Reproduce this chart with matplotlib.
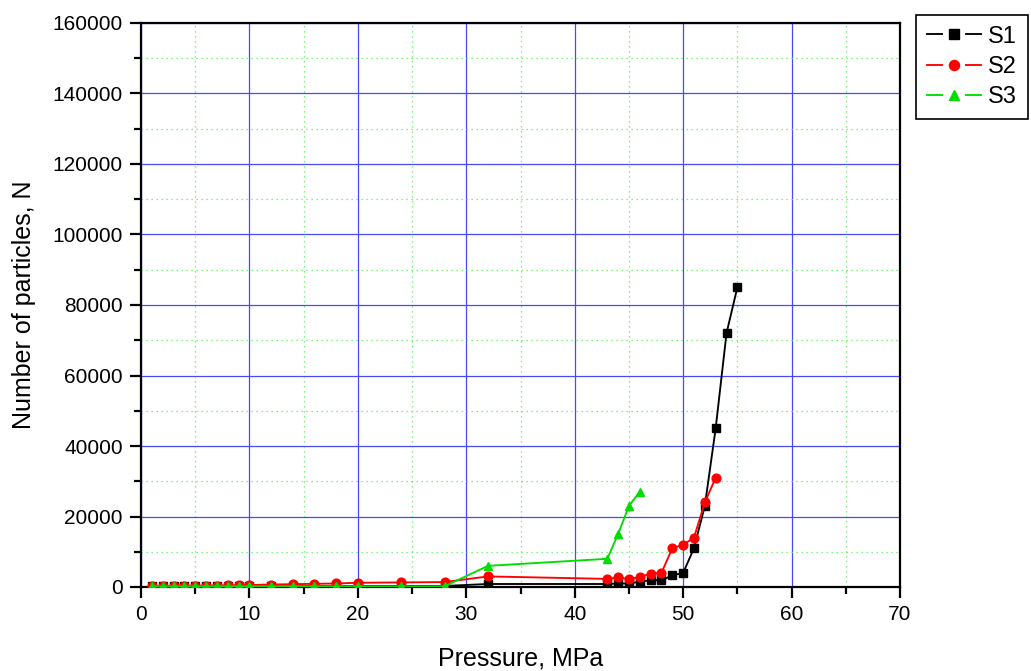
import matplotlib
matplotlib.use("Agg")
import matplotlib.pyplot as plt
from matplotlib.lines import Line2D
from matplotlib.legend_handler import HandlerBase
from matplotlib.ticker import MultipleLocator

plt.rcParams['font.family'] = ['Liberation Sans', 'DejaVu Sans']

# Data
p1 = [1, 2, 3, 4, 5, 6, 7, 8, 9, 10, 12, 14, 16, 18, 20, 24, 28, 32, 43, 44, 45, 46, 47, 48, 49, 50, 51, 52, 53, 54, 55]
s1 = [150, 150, 150, 150, 150, 150, 150, 150, 150, 200, 200, 200, 250, 250, 250, 300, 300, 850, 850, 1000, 1000, 1500, 1900, 1900, 3300, 4000, 11000, 23000, 45000, 72000, 85000]

p2 = [1, 2, 3, 4, 5, 6, 7, 8, 9, 10, 12, 14, 16, 18, 20, 24, 28, 32, 43, 44, 45, 46, 47, 48, 49, 50, 51, 52, 53]
s2 = [300, 300, 300, 350, 350, 400, 400, 450, 500, 550, 700, 800, 900, 1000, 1200, 1300, 1400, 3000, 2300, 2700, 2300, 2800, 3800, 4000, 11000, 12000, 14000, 24000, 31000]

p3 = [1, 2, 3, 4, 5, 6, 7, 8, 9, 10, 12, 14, 16, 18, 20, 24, 28, 32, 43, 44, 45, 46]
s3 = [200, 200, 200, 200, 200, 200, 200, 200, 200, 200, 200, 200, 200, 200, 200, 200, 200, 6000, 8000, 15000, 23000, 27000]

labels = ["S1", "S2", "S3"]
colors = ["black", "#ff0000", "#00dd00"]
markers = ["s", "o", "^"]


class GapHandler(HandlerBase):
    def create_artists(self, legend, orig, xdescent, ydescent, width, height, fontsize, trans):
        y = height / 2 - ydescent
        x0 = -xdescent
        gap = width * 0.22
        c = orig.get_color()
        lw = orig.get_linewidth()
        l1 = Line2D([x0, x0 + width / 2 - gap], [y, y], color=c, lw=lw)
        l2 = Line2D([x0 + width / 2 + gap, x0 + width], [y, y], color=c, lw=lw)
        m = Line2D([x0 + width / 2], [y], marker=orig.get_marker(), color=c,
                   markersize=orig.get_markersize() * 1.15, linestyle='none')
        for a in (l1, l2, m):
            a.set_transform(trans)
        return [l1, l2, m]


fig = plt.figure(figsize=(10.31, 6.71), dpi=100)
ax = fig.add_axes([141 / 1031, 1 - 587 / 671, (900 - 141) / 1031, (587 - 23) / 671])

handles = []
for x, y, lab, c, mk in zip([p1, p2, p3], [s1, s2, s3], labels, colors, markers):
    ms = 5.7 if mk == 's' else 6.3
    h, = ax.plot(x, y, color=c, marker=mk, markersize=ms, lw=1.35, label=lab, zorder=3)
    handles.append(h)

ax.set_xlim(0, 70)
ax.set_ylim(0, 160000)
ax.xaxis.set_major_locator(MultipleLocator(10))
ax.xaxis.set_minor_locator(MultipleLocator(5))
ax.yaxis.set_major_locator(MultipleLocator(20000))
ax.yaxis.set_minor_locator(MultipleLocator(10000))

ax.grid(which='major', color='#4848ff', lw=0.9, ls='-', zorder=0)
ax.grid(which='minor', color='#55ee55', lw=0.9, ls=(0, (1, 3)), zorder=0)
ax.set_axisbelow(True)

for s in ax.spines.values():
    s.set_linewidth(1.6)
    s.set_color('black')

ax.tick_params(which='major', direction='out', length=8, width=1.6, labelsize=15, pad=5,
               top=False, right=False)
ax.tick_params(which='minor', direction='out', length=5, width=1.6, top=False, right=False)

ax.set_xlabel("Pressure, MPa", fontsize=18, labelpad=16)
ax.set_ylabel("Number of particles, N", fontsize=18, labelpad=12)

leg = fig.legend(handles=handles, labels=labels, loc='upper left',
                 bbox_to_anchor=(916 / 1031, 1 - 15 / 671), bbox_transform=fig.transFigure,
                 borderaxespad=0, fontsize=17, handlelength=2.3, handletextpad=0.3,
                 labelspacing=0.35, fancybox=False, framealpha=1, edgecolor='black',
                 borderpad=0.45, handler_map={Line2D: GapHandler()})
leg.get_frame().set_linewidth(1.2)

fig.savefig("out.png", dpi=100)
